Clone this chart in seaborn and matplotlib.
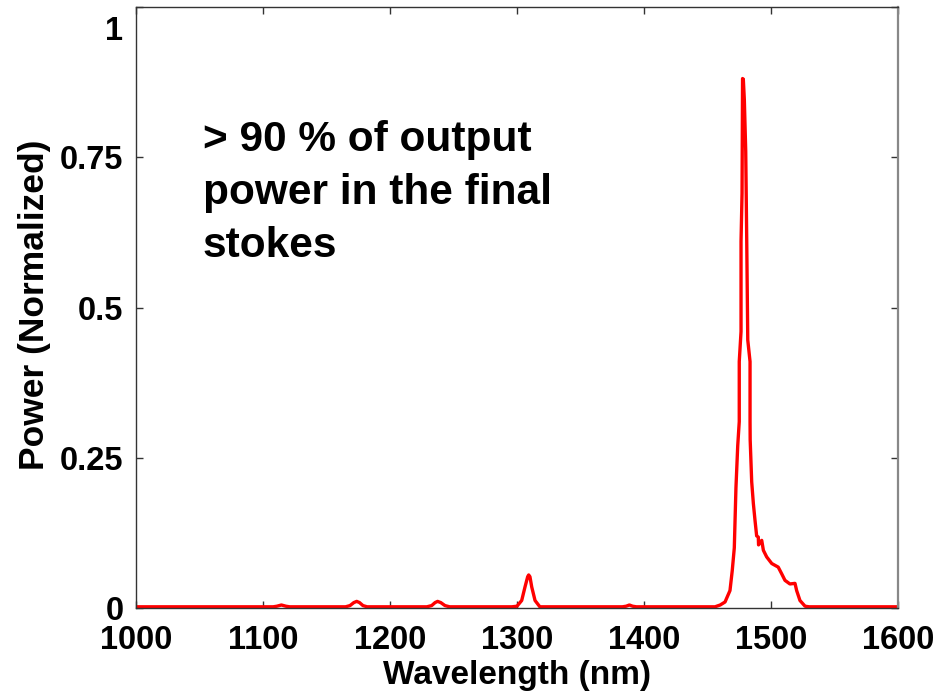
import matplotlib
matplotlib.use("Agg")
import matplotlib.pyplot as plt
import seaborn as sns
import pandas as pd

# Spectrum (wavelength nm, normalized power)
wavelength = [1000, 1108, 1111, 1114.5, 1118, 1121, 1165, 1168.5, 1171.5, 1173.8, 1176, 1178.7, 1182,
              1229, 1232.8, 1235.5, 1237.5, 1240, 1243.3, 1247,
              1296, 1300, 1303.7, 1306.3, 1308.4, 1309.2, 1310.2, 1311.6, 1314.2, 1318,
              1383, 1386, 1388.5, 1391, 1394,
              1452, 1455.9, 1460, 1463.8, 1467.7, 1469.5, 1471.1, 1472.4, 1473.8, 1475.0, 1475.0,
              1476.4, 1476.4, 1477.2, 1477.6, 1478.2, 1479.0, 1480.1, 1480.9, 1481.7, 1483.5, 1483.5,
              1483.6, 1484.8, 1486.1, 1487.4, 1488.7, 1490.0, 1490.2, 1492.7, 1494.0, 1496.6, 1500.6,
              1505.7, 1508.4, 1511.0, 1514.9, 1518.9, 1520.2, 1522.8, 1526.8, 1530, 1600]
power = [0.002, 0.002, 0.003, 0.005, 0.003, 0.002, 0.002, 0.004, 0.009, 0.011, 0.009, 0.004, 0.002,
         0.002, 0.004, 0.009, 0.011, 0.009, 0.004, 0.002,
         0.002, 0.003, 0.0125, 0.035, 0.052, 0.055, 0.052, 0.035, 0.0125, 0.002,
         0.002, 0.003, 0.005, 0.003, 0.002,
         0.002, 0.002, 0.005, 0.01, 0.029, 0.0625, 0.10, 0.20, 0.27, 0.31, 0.41,
         0.46, 0.61, 0.69, 0.881, 0.88, 0.846, 0.76, 0.61, 0.446, 0.41, 0.31,
         0.28, 0.21, 0.174, 0.146, 0.12, 0.118, 0.105, 0.1125, 0.096, 0.085, 0.074,
         0.068, 0.057, 0.046, 0.040, 0.041, 0.029, 0.0125, 0.003, 0.002, 0.002]

x_ticks = [1000, 1100, 1200, 1300, 1400, 1500, 1600]
y_ticks = [0, 0.25, 0.5, 0.75, 1]
y_tick_labels = ["0", "0.25", "0.5", "0.75", ""]
top_label = "1"
annotation = "> 90 % of output\npower in the final\nstokes"

df = pd.DataFrame({"Wavelength": wavelength, "Power": power})

sns.set_theme(style="white")
plt.rcParams["font.family"] = ["Liberation Sans", "DejaVu Sans"]
plt.rcParams["font.weight"] = "bold"
plt.rcParams["text.color"] = "black"
plt.rcParams["axes.labelcolor"] = "black"
plt.rcParams["xtick.color"] = "black"
plt.rcParams["ytick.color"] = "black"

fig = plt.figure(figsize=(9.47, 6.94), dpi=100)
ax = fig.add_axes([136 / 947, 1 - 608 / 694, (898 - 136) / 947, (608 - 7) / 694])

sns.lineplot(data=df, x="Wavelength", y="Power", sort=False, estimator=None,
             color="#ff0000", linewidth=2.4, ax=ax)

ax.set_xlim(1000, 1600)
ax.set_ylim(0, 1)
ax.set_xticks(x_ticks)
ax.set_xticklabels([str(t) for t in x_ticks])
ax.set_yticks(y_ticks)
ax.set_yticklabels(y_tick_labels)

ax.tick_params(axis="both", which="both", direction="in", length=5, width=1,
               color="#333333", labelcolor="black", labelsize=23.5,
               top=True, right=True, bottom=True, left=True)
ax.tick_params(axis="x", pad=12)
ax.tick_params(axis="y", pad=9)
for lab in ax.get_xticklabels() + ax.get_yticklabels():
    lab.set_fontweight("bold")

ax.text(-13 / 762, 1 - 25 / 601, top_label, transform=ax.transAxes, ha="right", va="center",
        fontsize=23.5, fontweight="bold", color="black")

for s in ax.spines.values():
    s.set_color("#333333")
    s.set_linewidth(1)
ax.spines["right"].set_color("#888888")
ax.spines["right"].set_linewidth(1.6)

ax.set_xlabel("Wavelength (nm)", fontsize=24, fontweight="bold", labelpad=3, color="black")
ax.set_ylabel("Power (Normalized)", fontsize=25.5, fontweight="bold", labelpad=4, color="black")
ax.yaxis.set_label_coords(-85 / 762, 0.505)

ax.text(203 / 947, 1 - 120 / 694, annotation, transform=fig.transFigure, ha="left", va="top",
        fontsize=30.5, fontweight="bold", linespacing=1.42, color="black")

fig.savefig("out.png", dpi=100)
